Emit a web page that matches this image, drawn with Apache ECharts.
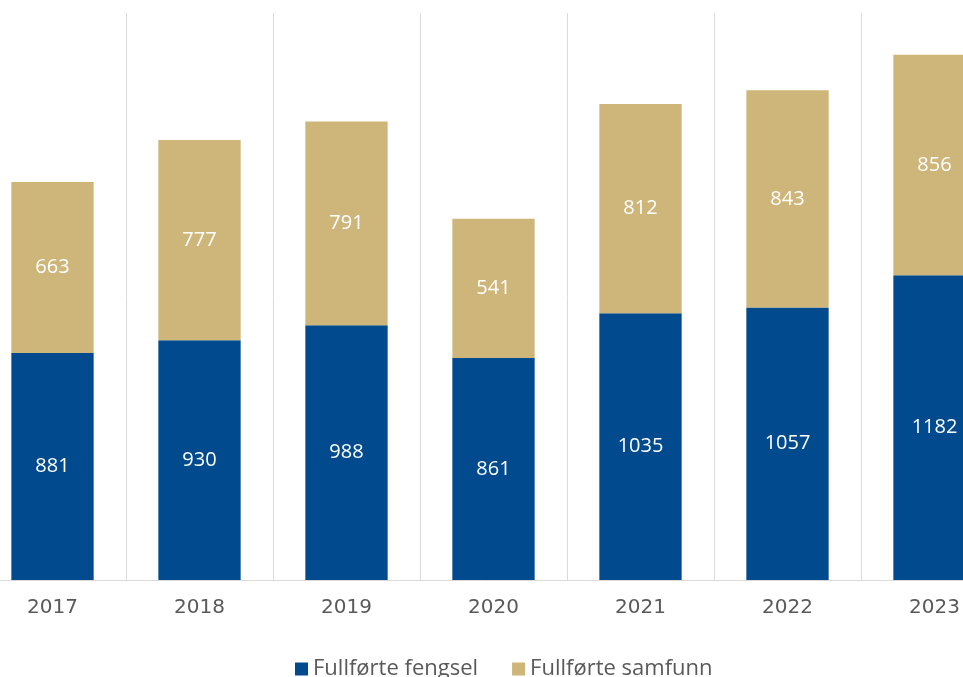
<!DOCTYPE html>
<html><head><meta charset="utf-8">
<script src="https://cdn.jsdelivr.net/npm/echarts@6/dist/echarts.min.js"></script>
<style>html,body{margin:0;padding:0;background:#fff}#c{width:963px;height:677px}</style>
</head><body><div id="c"></div>
<script>
const categories = ['2017','2018','2019','2020','2021','2022','2023'];
const fengsel = [881, 930, 988, 861, 1035, 1057, 1182];
const samfunn = [663, 777, 791, 541, 812, 843, 856];
const seriesNames = ['Fullførte fengsel', 'Fullførte samfunn'];

const font = '"Open Sans", Lato, sans-serif';
const chart = echarts.init(document.getElementById('c'));
chart.setOption({
  animation: false,
  grid: { left: -21, width: 1029, top: 13, bottom: 97, containLabel: false, outerBoundsMode: 'none' },
  legend: {
    top: 653, left: 290, icon: 'rect', itemWidth: 13, itemHeight: 13, itemGap: 34,
    textStyle: { fontFamily: font, fontSize: 22, color: '#595959' },
    data: seriesNames
  },
  xAxis: {
    type: 'category', data: categories,
    axisLine: { lineStyle: { color: '#d9d9d9', width: 1 } },
    axisTick: { show: false },
    axisLabel: { fontFamily: '"DejaVu Sans", sans-serif', fontSize: 20, color: '#595959', margin: 18 },
    splitLine: { show: true, lineStyle: { color: '#d9d9d9', width: 1 } }
  },
  yAxis: { type: 'value', min: 0, max: 2200, show: false, splitLine: { show: false } },
  series: [
    { name: seriesNames[0], type: 'bar', stack: 't', data: fengsel, barWidth: '56%',
      itemStyle: { color: '#004A8D' },
      label: { show: true, position: 'inside', color: '#fff', fontFamily: font, fontSize: 20 } },
    { name: seriesNames[1], type: 'bar', stack: 't', data: samfunn, barWidth: '56%',
      itemStyle: { color: '#CEB67A' },
      label: { show: true, position: 'inside', color: '#fff', fontFamily: font, fontSize: 20 } }
  ]
});
</script></body></html>
